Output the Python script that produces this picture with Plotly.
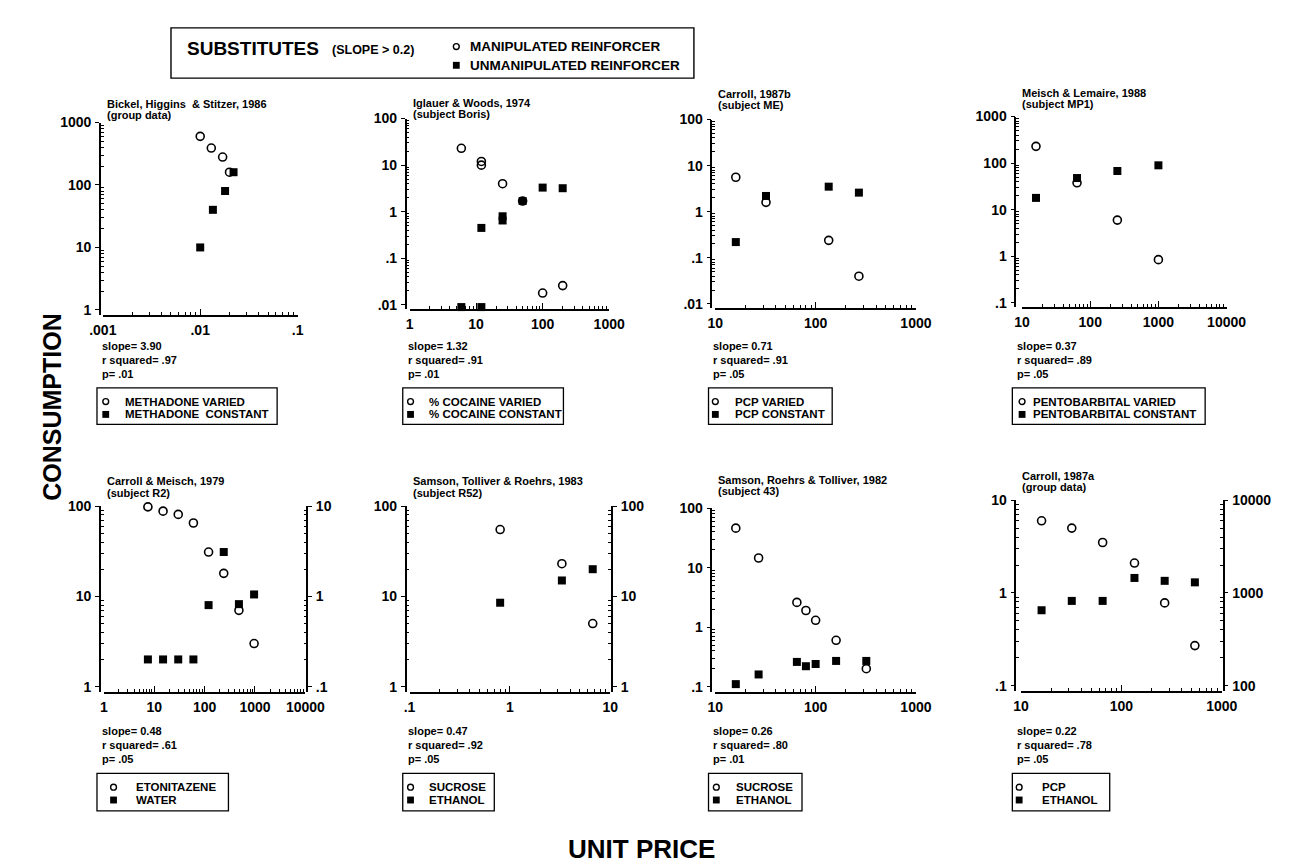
import math
import plotly.graph_objects as go

W, H = 1297, 868
FONT = "Liberation Sans, Arial, Helvetica, sans-serif"

# ---------------- data ----------------
# Panel 1: Bickel, Higgins & Stitzer, 1986
p1_x_varied = [0.01, 0.013, 0.017, 0.02]
p1_y_varied = [600, 390, 280, 160]
p1_x_const = [0.01, 0.0135, 0.018, 0.022]
p1_y_const = [10, 40, 80, 160]

# Panel 2: Iglauer & Woods, 1974
p2_x_varied = [6, 12, 12, 25, 50, 100, 200]
p2_y_varied = [23, 12, 10, 4, 1.7, 0.018, 0.026]
p2_x_const = [6, 12, 12, 25, 25, 50, 100, 200]
p2_y_const = [0.009, 0.009, 0.45, 0.65, 0.8, 1.7, 3.3, 3.2]

# Panel 3: Carroll, 1987b
p3_x_varied = [16, 32, 135, 270]
p3_y_varied = [5.6, 1.6, 0.24, 0.04]
p3_x_const = [16, 32, 135, 270]
p3_y_const = [0.22, 2.2, 3.5, 2.6]

# Panel 4: Meisch & Lemaire, 1988
p4_x_varied = [16, 64, 250, 1000]
p4_y_varied = [230, 38, 6, 0.85]
p4_x_const = [16, 64, 250, 1000]
p4_y_const = [18, 48, 68, 90]

# Panel 5: Carroll & Meisch, 1979 (water on right axis)
p5_x_varied = [7.5, 15, 30, 60, 120, 240, 480, 960]
p5_y_varied = [98, 88, 81, 65, 31, 18, 7, 3]
p5_x_const = [7.5, 15, 30, 60, 120, 240, 480, 960]
p5_y_const = [0.2, 0.2, 0.2, 0.2, 0.8, 3.1, 0.82, 1.05]

# Panel 6: Samson, Tolliver & Roehrs, 1983 (ethanol on right axis)
p6_x_varied = [0.8, 3.3, 6.7]
p6_y_varied = [55, 23, 5]
p6_x_const = [0.8, 3.3, 6.7]
p6_y_const = [8.5, 15, 20]

# Panel 7: Samson, Roehrs & Tolliver, 1982
p7_x_varied = [16, 27, 65, 80, 100, 160, 320]
p7_y_varied = [46, 14.5, 2.6, 1.9, 1.3, 0.6, 0.2]
p7_x_const = [16, 27, 65, 80, 100, 160, 320]
p7_y_const = [0.11, 0.16, 0.26, 0.22, 0.24, 0.27, 0.27]

# Panel 8: Carroll, 1987a (ethanol on right axis)
p8_x_varied = [16, 32, 65, 135, 270, 540]
p8_y_varied = [6, 5, 3.5, 2.1, 0.78, 0.27]
p8_x_const = [16, 32, 65, 135, 270, 540]
p8_y_const = [650, 820, 820, 1450, 1350, 1300]

titles = [
    ["Bickel, Higgins  & Stitzer, 1986", "(group data)"],
    ["Iglauer & Woods, 1974", "(subject Boris)"],
    ["Carroll, 1987b", "(subject ME)"],
    ["Meisch & Lemaire, 1988", "(subject MP1)"],
    ["Carroll & Meisch, 1979", "(subject R2)"],
    ["Samson, Tolliver & Roehrs, 1983", "(subject R52)"],
    ["Samson, Roehrs & Tolliver, 1982", "(subject 43)"],
    ["Carroll, 1987a", "(group data)"],
]
stats = [
    ["slope= 3.90", "r squared= .97", "p= .01"],
    ["slope= 1.32", "r squared= .91", "p= .01"],
    ["slope= 0.71", "r squared= .91", "p= .05"],
    ["slope= 0.37", "r squared= .89", "p= .05"],
    ["slope= 0.48", "r squared= .61", "p= .05"],
    ["slope= 0.47", "r squared= .92", "p= .05"],
    ["slope= 0.26", "r squared= .80", "p= .01"],
    ["slope= 0.22", "r squared= .78", "p= .05"],
]
legends = [
    ["METHADONE VARIED", "METHADONE  CONSTANT"],
    ["% COCAINE VARIED", "% COCAINE CONSTANT"],
    ["PCP VARIED", "PCP CONSTANT"],
    ["PENTOBARBITAL VARIED", "PENTOBARBITAL CONSTANT"],
    ["ETONITAZENE", "WATER"],
    ["SUCROSE", "ETHANOL"],
    ["SUCROSE", "ETHANOL"],
    ["PCP", "ETHANOL"],
]
x_ticks = [
    ([0.001, 0.01, 0.1], [".001", ".01", ".1"]),
    ([1, 10, 100, 1000], ["1", "10", "100", "1000"]),
    ([10, 100, 1000], ["10", "100", "1000"]),
    ([10, 100, 1000, 10000], ["10", "100", "1000", "10000"]),
    ([1, 10, 100, 1000, 10000], ["1", "10", "100", "1000", "10000"]),
    ([0.1, 1, 10], [".1", "1", "10"]),
    ([10, 100, 1000], ["10", "100", "1000"]),
    ([10, 100, 1000], ["10", "100", "1000"]),
]
y_ticks = [
    ([1, 10, 100, 1000], ["1", "10", "100", "1000"]),
    ([0.01, 0.1, 1, 10, 100], [".01", ".1", "1", "10", "100"]),
    ([0.01, 0.1, 1, 10, 100], [".01", ".1", "1", "10", "100"]),
    ([0.1, 1, 10, 100, 1000], [".1", "1", "10", "100", "1000"]),
    ([1, 10, 100], ["1", "10", "100"]),
    ([1, 10, 100], ["1", "10", "100"]),
    ([0.1, 1, 10, 100], [".1", "1", "10", "100"]),
    ([0.1, 1, 10], [".1", "1", "10"]),
]
right_ticks = {
    5: ([0.1, 1, 10], [".1", "1", "10"]),
    6: ([1, 10, 100], ["1", "10", "100"]),
    8: ([100, 1000, 10000], ["100", "1000", "10000"]),
}

series = [
    (p1_x_varied, p1_y_varied, p1_x_const, p1_y_const),
    (p2_x_varied, p2_y_varied, p2_x_const, p2_y_const),
    (p3_x_varied, p3_y_varied, p3_x_const, p3_y_const),
    (p4_x_varied, p4_y_varied, p4_x_const, p4_y_const),
    (p5_x_varied, p5_y_varied, p5_x_const, p5_y_const),
    (p6_x_varied, p6_y_varied, p6_x_const, p6_y_const),
    (p7_x_varied, p7_y_varied, p7_x_const, p7_y_const),
    (p8_x_varied, p8_y_varied, p8_x_const, p8_y_const),
]

# ---------------- layout (pixels) ----------------
# (y-axis x, x-axis start, x-axis end, top tick y, bottom tick y, x-axis line y)
GEOM = [
    (80, 83, 283, 108, 298, 303),
    (394, 398, 603, 104, 293, 297),
    (708, 712, 918, 105, 292, 296),
    (1020, 1027, 1237, 102, 291, 295),
    (80, 84, 291, 497, 680, 685),
    (394, 398, 604, 497, 680, 685),
    (708, 712, 918, 499, 680, 685),
    (1020, 1026, 1232, 491, 679, 684),
]
TITLE_Y = [(89, 100), (88, 99), (79, 90), (78, 89),
           (472, 484), (472, 484), (470, 482), (466, 478)]
ROW_TXT = {
    0: dict(s=[335, 349, 363], box=(377, 414), lr=[391, 404]),
    1: dict(s=[725, 739, 753], box=(768, 806), lr=[782, 795]),
}
# legend box width, marker offset, text offset
LEG_GEOM = [(185, 9, 27), (165, 8, 25), (127, 7, 25), (198, 10, 19),
            (135, 17, 38), (94, 8, 25), (96, 8, 26), (100, 7, 28)]


def fx(px):
    return px / W


def fy(py):
    return 1 - py / H


def minor_vals(lo, hi):
    out = []
    for e in range(int(math.floor(math.log10(lo))), int(math.ceil(math.log10(hi)))):
        for m in range(2, 10):
            v = m * 10 ** e
            if lo < v < hi:
                out.append(v)
    return out


def btxt(lst):
    return ["<b>%s</b>" % t for t in lst]


TICKFONT = dict(size=14, family=FONT, color="black")

fig = go.Figure()
layout = dict(
    width=W, height=H, margin=dict(l=0, r=0, t=0, b=0),
    paper_bgcolor="white", plot_bgcolor="rgba(0,0,0,0)",
    showlegend=False, font=dict(family=FONT, color="black"),
)
annotations = []
shapes = []


def yaxis_dict(vals, texts, ytop, ytick_lo, ybot, pos, side, overlay=None):
    ndec = math.log10(vals[-1]) - math.log10(vals[0])
    dec_px = (ytick_lo - ytop) / ndec
    lo = math.log10(vals[0]) - (ybot - ytick_lo) / dec_px
    d = dict(
        type="log", domain=[fy(ybot), fy(ytop)], anchor="free", position=fx(pos),
        side=side, range=[lo, math.log10(vals[-1])],
        tickmode="array", tickvals=vals, ticktext=btxt(texts),
        ticks="outside", ticklen=4, tickwidth=1.3, tickcolor="black",
        minor=dict(tickmode="array", tickvals=minor_vals(vals[0], vals[-1]),
                   ticks="inside", ticklen=3, tickwidth=1, tickcolor="black"),
        showline=True, linecolor="black", linewidth=1.5,
        showgrid=False, zeroline=False, tickfont=TICKFONT, ticklabelstandoff=1,
    )
    if overlay:
        d["overlaying"] = overlay
        d.pop("domain")
    return d


for i in range(8):
    n = i + 1
    row = ROW_TXT[i // 4]
    yx, xs, xe, ytop, ytick_lo, ybot = GEOM[i]
    xv, xt = x_ticks[i]
    yv, yt = y_ticks[i]
    sfx = "" if n == 1 else str(n)
    layout["xaxis" + sfx] = dict(
        type="log", domain=[fx(xs), fx(xe)], anchor="y" + sfx,
        range=[math.log10(xv[0]), math.log10(xv[-1])],
        tickmode="array", tickvals=xv, ticktext=btxt(xt),
        ticks="inside", ticklen=6, tickwidth=1.3, tickcolor="black",
        minor=dict(tickmode="array", tickvals=minor_vals(xv[0], xv[-1]),
                   ticks="inside", ticklen=3, tickwidth=1, tickcolor="black"),
        showline=True, linecolor="black", linewidth=1.5,
        showgrid=False, zeroline=False, tickfont=TICKFONT, ticklabelstandoff=2,
    )
    layout["yaxis" + sfx] = yaxis_dict(yv, yt, ytop, ytick_lo, ybot, yx, "left")

    xv_, yv_, xc_, yc_ = series[i]
    fig.add_trace(go.Scatter(
        x=xv_, y=yv_, mode="markers", xaxis="x" + sfx, yaxis="y" + sfx,
        marker=dict(symbol="circle-open", size=8, color="black",
                    line=dict(width=1.6, color="black")),
        cliponaxis=False))
    yref_c = "y" + sfx
    if n in right_ticks:
        rid = {5: 9, 6: 10, 8: 11}[n]
        rv, rt = right_ticks[n]
        layout["yaxis%d" % rid] = yaxis_dict(rv, rt, ytop, ytick_lo, ybot, xe + 2,
                                             "right", overlay="y" + sfx)
        yref_c = "y%d" % rid
    fig.add_trace(go.Scatter(
        x=xc_, y=yc_, mode="markers", xaxis="x" + sfx, yaxis=yref_c,
        marker=dict(symbol="square", size=8, color="black", line=dict(width=0)),
        cliponaxis=False))

    # titles
    for txt, ty in zip(titles[i], TITLE_Y[i]):
        annotations.append(dict(
            x=fx(yx + 5), y=fy(ty), xref="paper", yref="paper", text="<b>%s</b>" % txt,
            showarrow=False, xanchor="left", yanchor="middle",
            font=dict(size=11, family=FONT, color="black")))
    # stats
    for txt, ty in zip(stats[i], row["s"]):
        annotations.append(dict(
            x=fx(yx), y=fy(ty), xref="paper", yref="paper", text="<b>%s</b>" % txt,
            showarrow=False, xanchor="left", yanchor="middle",
            font=dict(size=11, family=FONT, color="black")))
    # legend box
    bw, mdx, tdx = LEG_GEOM[i]
    bt, bb = row["box"]
    bl = yx - 3
    shapes.append(dict(type="rect", xref="paper", yref="paper",
                       x0=fx(bl), x1=fx(bl + bw), y0=fy(bb), y1=fy(bt),
                       line=dict(color="black", width=1.3)))
    r1, r2 = row["lr"]
    mx = bl + mdx
    shapes.append(dict(type="circle", xref="paper", yref="paper",
                       x0=fx(mx - 3), x1=fx(mx + 3), y0=fy(r1 + 3), y1=fy(r1 - 3),
                       line=dict(color="black", width=1.4)))
    shapes.append(dict(type="rect", xref="paper", yref="paper",
                       x0=fx(mx - 3.5), x1=fx(mx + 3.5), y0=fy(r2 + 3.5), y1=fy(r2 - 3.5),
                       fillcolor="black", line=dict(color="black", width=0)))
    for txt, ty in zip(legends[i], [r1, r2]):
        annotations.append(dict(
            x=fx(bl + tdx), y=fy(ty), xref="paper", yref="paper",
            text="<b>%s</b>" % txt, showarrow=False, xanchor="left",
            yanchor="middle", font=dict(size=11.5, family=FONT, color="black")))

# main header box
shapes.append(dict(type="rect", xref="paper", yref="paper",
                   x0=fx(153), x1=fx(690), y0=fy(63), y1=fy(12),
                   line=dict(color="black", width=1.4)))
annotations.append(dict(x=fx(167), y=fy(33), xref="paper", yref="paper",
                        text="<b>SUBSTITUTES</b>", showarrow=False, xanchor="left",
                        yanchor="middle", font=dict(size=19, family=FONT, color="black")))
annotations.append(dict(x=fx(316), y=fy(34), xref="paper", yref="paper",
                        text="<b>(SLOPE > 0.2)</b>", showarrow=False, xanchor="left",
                        yanchor="middle", font=dict(size=12.5, family=FONT, color="black")))
shapes.append(dict(type="circle", xref="paper", yref="paper",
                   x0=fx(443), x1=fx(449), y0=fy(34), y1=fy(28),
                   line=dict(color="black", width=1.4)))
shapes.append(dict(type="rect", xref="paper", yref="paper",
                   x0=fx(442.5), x1=fx(449.5), y0=fy(53.5), y1=fy(46.5),
                   fillcolor="black", line=dict(width=0)))
annotations.append(dict(x=fx(458), y=fy(31), xref="paper", yref="paper",
                        text="<b>MANIPULATED REINFORCER</b>", showarrow=False,
                        xanchor="left", yanchor="middle",
                        font=dict(size=13.5, family=FONT, color="black")))
annotations.append(dict(x=fx(458), y=fy(50), xref="paper", yref="paper",
                        text="<b>UNMANIPULATED REINFORCER</b>", showarrow=False,
                        xanchor="left", yanchor="middle",
                        font=dict(size=13.5, family=FONT, color="black")))

# global axis titles
annotations.append(dict(x=fx(30), y=fy(396), xref="paper", yref="paper",
                        text="<b>CONSUMPTION</b>", showarrow=False, textangle=-90,
                        xanchor="center", yanchor="middle",
                        font=dict(size=25, family=FONT, color="black")))
annotations.append(dict(x=fx(636), y=fy(845), xref="paper", yref="paper",
                        text="<b>UNIT PRICE</b>", showarrow=False,
                        xanchor="center", yanchor="middle",
                        font=dict(size=26, family=FONT, color="black")))

layout["annotations"] = annotations
layout["shapes"] = shapes
fig.update_layout(**layout)
fig.write_html("out.html")
